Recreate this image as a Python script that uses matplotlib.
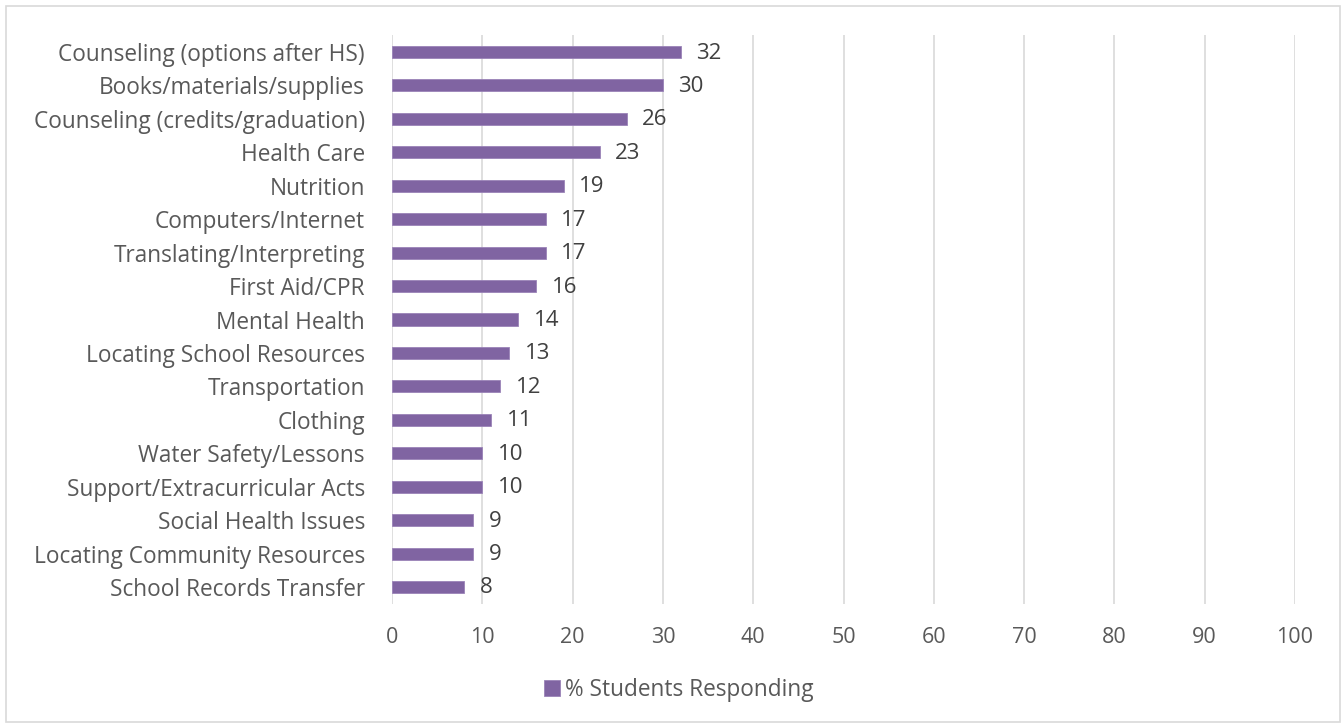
import matplotlib
matplotlib.use('Agg')
import matplotlib.pyplot as plt
from matplotlib.patches import Rectangle

categories = [
    'Counseling (options after HS)',
    'Books/materials/supplies',
    'Counseling (credits/graduation)',
    'Health Care',
    'Nutrition',
    'Computers/Internet',
    'Translating/Interpreting',
    'First Aid/CPR',
    'Mental Health',
    'Locating School Resources',
    'Transportation',
    'Clothing',
    'Water Safety/Lessons',
    'Support/Extracurricular Acts',
    'Social Health Issues',
    'Locating Community Resources',
    'School Records Transfer',
]
values = [32, 30, 26, 23, 19, 17, 17, 16, 14, 13, 12, 11, 10, 10, 9, 9, 8]
xticks = [0, 10, 20, 30, 40, 50, 60, 70, 80, 90, 100]
series_name = '% Students Responding'

BAR = '#8064A2'
TXT = '#595959'
plt.rcParams['font.family'] = ['Open Sans', 'DejaVu Sans']

fig = plt.figure(figsize=(13.42, 7.28), dpi=100)
fig.patch.set_facecolor('white')
fig.patches.append(Rectangle((6 / 1342, 1 - 722 / 728), 1334 / 1342, 716 / 728,
                             transform=fig.transFigure, fill=False,
                             edgecolor='#D9D9D9', lw=1.2))

ax = fig.add_axes([392 / 1342, 1 - 603.7 / 728, 903 / 1342, 568.4 / 728])
ypos = list(range(len(categories)))
ax.barh(ypos, values, height=0.36, color=BAR, edgecolor='#9A83B8', lw=0.6,
        zorder=3, label=series_name)
for y, v in zip(ypos, values):
    ax.text(v + 1.7, y + 0.03, str(v), va='center', ha='left', fontsize=16,
            color='#404040')

ax.set_xlim(0, 100)
ax.set_ylim(len(categories) - 0.5, -0.5)
ax.set_yticks(ypos)
ax.set_yticklabels(categories, fontsize=16.3, color=TXT)
ax.set_xticks(xticks)
ax.set_xticklabels([str(t) for t in xticks], fontsize=15.5, color=TXT)
ax.tick_params(axis='both', length=0)
ax.tick_params(axis='y', pad=19.5)
ax.tick_params(axis='x', pad=17)
ax.grid(axis='x', color='#D9D9D9', lw=1.2, zorder=0)
for s in ax.spines.values():
    s.set_visible(False)

leg = fig.legend(loc='center', bbox_to_anchor=(679 / 1342, 1 - 690 / 728),
                 frameon=False, fontsize=16.3, handlelength=0.7,
                 handleheight=0.7, handletextpad=0.25)
for t in leg.get_texts():
    t.set_color(TXT)

plt.savefig('out.png', dpi=100, facecolor='white')
